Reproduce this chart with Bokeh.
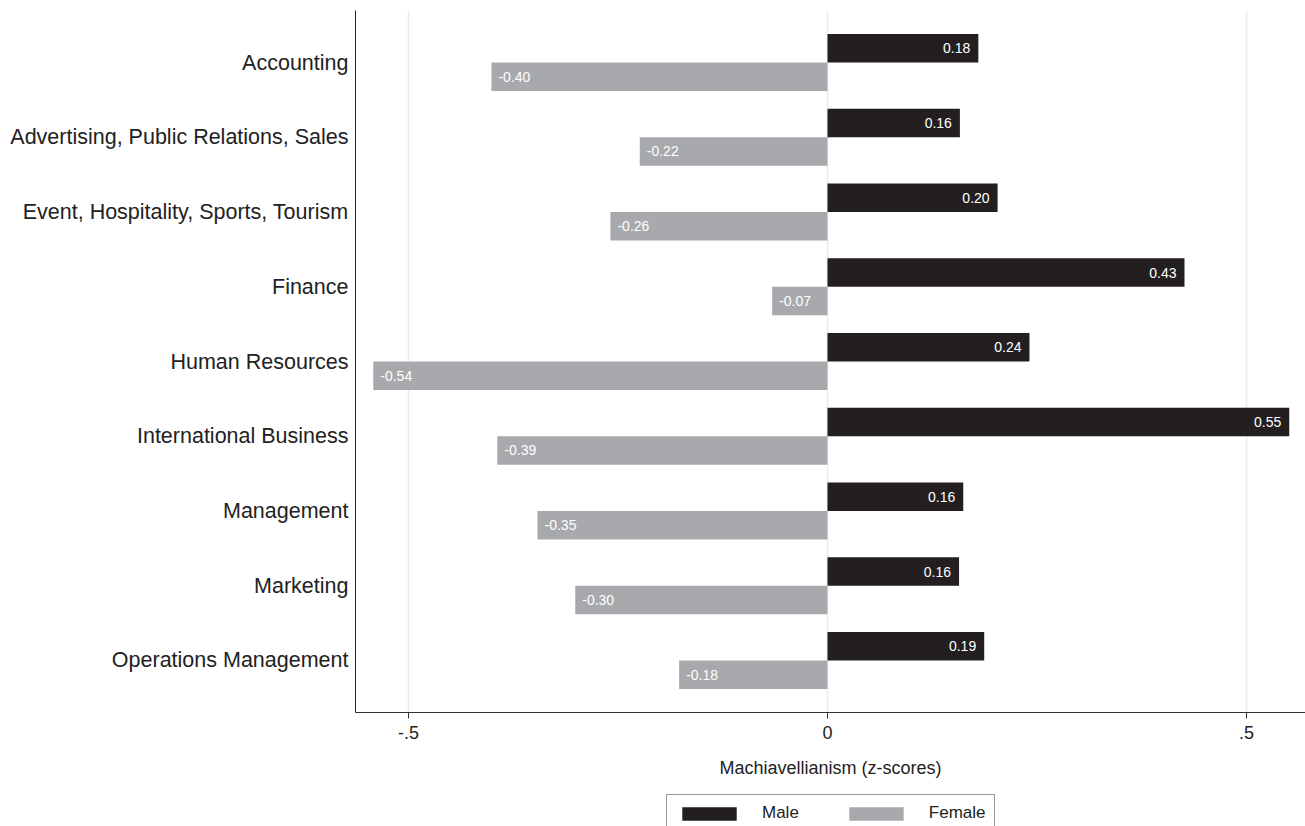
from bokeh.plotting import figure
from bokeh.layouts import column
from bokeh.models import (FactorRange, Range1d, FixedTicker, ColumnDataSource,
                          Legend, LegendItem)
from bokeh.transform import dodge
from bokeh.core.properties import value
from bokeh.embed import file_html
from bokeh.resources import INLINE

categories = ["Accounting", "Advertising, Public Relations, Sales",
              "Event, Hospitality, Sports, Tourism", "Finance", "Human Resources",
              "International Business", "Management", "Marketing",
              "Operations Management"]
male = [0.180, 0.158, 0.203, 0.426, 0.241, 0.551, 0.162, 0.157, 0.187]
female = [-0.401, -0.224, -0.259, -0.066, -0.542, -0.394, -0.346, -0.301, -0.177]
series_names = ["Male", "Female"]
x_ticks = [-0.5, 0, 0.5]
x_tick_labels = ["-.5", "0", ".5"]

FONT = "Liberation Sans"
MALE_C = "#231f20"
FEMALE_C = "#a7a9ac"

src = ColumnDataSource(dict(
    cat=categories,
    male=male,
    female=female,
    male_lbl=[f"{v:.2f}" for v in male],
    female_lbl=[f"{v:.2f}" for v in female],
))

p = figure(width=1305, height=790,
           y_range=FactorRange(factors=categories[::-1], range_padding=0.196,
                               range_padding_units="absolute"),
           x_range=Range1d(-0.5632, 0.5704),
           output_backend="svg", toolbar_location=None,
           min_border_left=355, min_border_right=0, min_border_top=10,
           min_border_bottom=78)
p.outline_line_color = None
p.background_fill_color = "white"
p.border_fill_color = "white"

rm = p.hbar(y=dodge("cat", 0.19, range=p.y_range), left=0, right="male",
            height=0.38, source=src, fill_color=MALE_C, line_color=None)
rf = p.hbar(y=dodge("cat", -0.19, range=p.y_range), left=0, right="female",
            height=0.38, source=src, fill_color=FEMALE_C, line_color=None)

p.text(x="male", y=dodge("cat", 0.19, range=p.y_range), text="male_lbl",
       source=src, x_offset=-8, text_align="right", text_baseline="middle",
       text_color="white", text_font=value(FONT), text_font_size="14px")
p.text(x="female", y=dodge("cat", -0.19, range=p.y_range), text="female_lbl",
       source=src, x_offset=7, text_align="left", text_baseline="middle",
       text_color="white", text_font=value(FONT), text_font_size="14px")

# grid
p.ygrid.grid_line_color = None
p.xgrid.ticker = FixedTicker(ticks=x_ticks)
p.xgrid.grid_line_color = "#ebebeb"
p.xgrid.grid_line_width = 1.5

# x axis
xa = p.xaxis[0]
xa.ticker = FixedTicker(ticks=x_ticks)
xa.major_label_overrides = {t: l for t, l in zip(x_ticks, x_tick_labels)}
xa.axis_label = "Machiavellianism (z-scores)"
xa.axis_label_text_font = FONT
xa.axis_label_text_font_style = "normal"
xa.axis_label_text_font_size = "18px"
xa.axis_label_text_color = "#222222"
xa.axis_label_standoff = 16
xa.major_label_text_font = FONT
xa.major_label_text_font_size = "18px"
xa.major_label_text_color = "#222222"
xa.major_label_standoff = 7
xa.major_tick_out = 6
xa.major_tick_in = 0
xa.minor_tick_line_color = None
xa.axis_line_color = "#333333"
xa.major_tick_line_color = "#333333"

# y axis
ya = p.yaxis[0]
ya.major_tick_line_color = None
ya.minor_tick_line_color = None
ya.major_tick_out = 0
ya.major_tick_in = 0
ya.axis_line_color = "#222222"
ya.major_label_text_font = FONT
ya.major_label_text_font_size = "21.5px"
ya.major_label_text_color = "#222222"
ya.major_label_standoff = 7

# legend strip below the chart (frame aligned with the main chart's frame)
p2 = figure(width=1305, height=36, x_range=Range1d(0, 1), y_range=Range1d(0, 1),
            output_backend="svg", toolbar_location=None,
            x_axis_type=None, y_axis_type=None, min_border=0)
p2.outline_line_color = None
p2.grid.visible = False
p2.background_fill_color = "white"
p2.border_fill_color = "white"
# zero-size bars only used to carry the legend swatch styles
lm = p2.hbar(y="male", left=0, right=0, height=0, source=src,
             fill_color=MALE_C, line_color=None)
lf = p2.hbar(y="female", left=0, right=0, height=0, source=src,
             fill_color=FEMALE_C, line_color=None)

legend = Legend(items=[LegendItem(label=series_names[0], renderers=[lm]),
                       LegendItem(label=series_names[1], renderers=[lf])],
                orientation="horizontal", location=(311, -6),
                glyph_width=68, glyph_height=17, label_standoff=19,
                spacing=43, padding=8, margin=0,
                label_text_font=FONT, label_text_font_size="17px",
                label_text_color="#222222",
                border_line_color="#333333", border_line_width=1,
                background_fill_color="white", background_fill_alpha=1)
p2.add_layout(legend, "center")

open("out.html", "w").write(file_html(column(p, p2), INLINE))
